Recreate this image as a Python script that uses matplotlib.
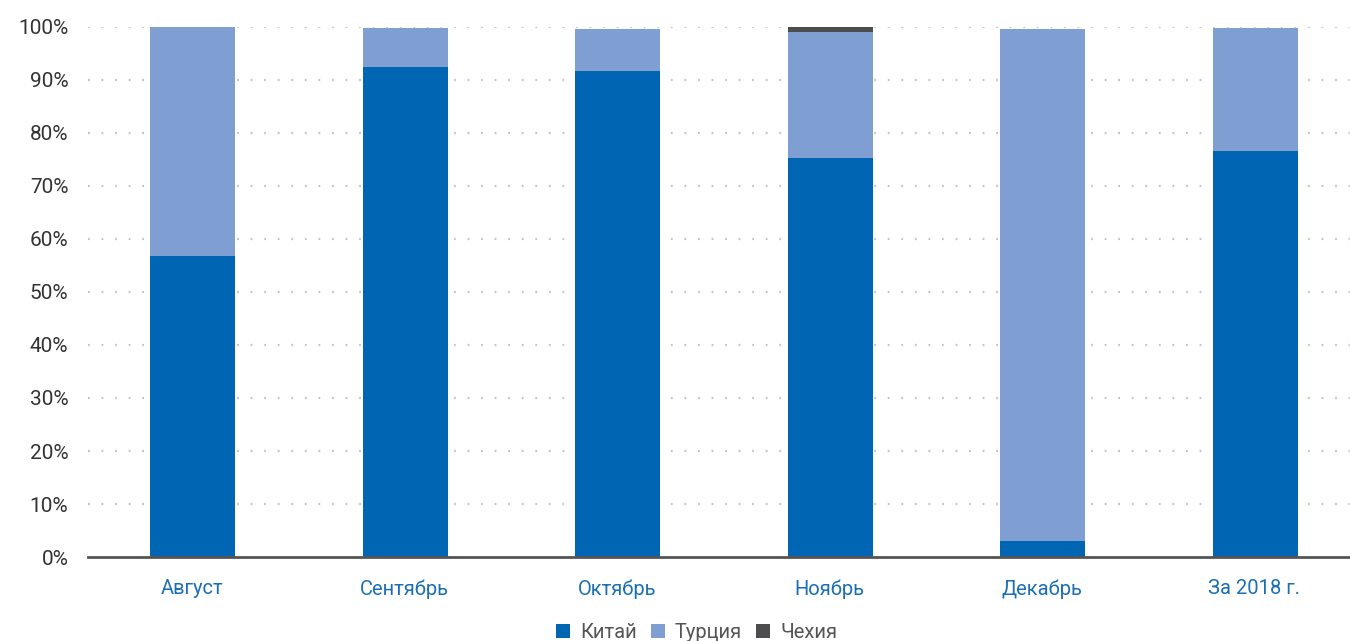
import matplotlib.pyplot as plt
import numpy as np

months = ['Август', 'Сентябрь', 'Октябрь', 'Ноябрь', 'Декабрь', 'За 2018 г.']
china = [56.8, 92.5, 91.7, 75.3, 3.0, 76.6]
turkey = [43.2, 7.3, 7.9, 23.8, 96.6, 23.2]
czech = [0.0, 0.0, 0.0, 0.8, 0.0, 0.0]

c_china = '#0066b3'
c_turkey = '#7f9fd3'
c_czech = '#4d4d4f'

plt.rcParams['font.family'] = ['Roboto', 'DejaVu Sans']

fig = plt.figure(figsize=(13.5, 6.41), dpi=100)
ax = fig.add_axes([0.065, 0.131, 0.935, 0.827])

x = np.arange(len(months))
w = 0.4
china = np.array(china)
turkey = np.array(turkey)
czech = np.array(czech)
ax.bar(x + 0.005, china, w, color=c_china, label='Китай', zorder=3)
ax.bar(x + 0.005, turkey, w, bottom=china, color=c_turkey, label='Турция', zorder=3)
ax.bar(x + 0.005, czech, w, bottom=china + turkey, color=c_czech, label='Чехия', zorder=3)

ax.set_xlim(-0.49, 5.45)
ax.set_ylim(0, 100)
ax.set_yticks(np.arange(0, 101, 10))
ax.set_yticklabels([f'{v}%' for v in range(0, 101, 10)], fontsize=15, color='#333333')
ax.set_xticks(x)
ax.set_xticklabels(months, fontsize=14.5, color='#1a6fb5')
ax.tick_params(axis='both', length=0)
ax.tick_params(axis='x', pad=16)
ax.tick_params(axis='y', pad=14)

for v in range(10, 101, 10):
    ax.axhline(v, color='#c4c4c4', linewidth=1.6, linestyle=(0, (0.8, 5.3)), zorder=1)

for s in ['top', 'right', 'left']:
    ax.spines[s].set_visible(False)
ax.spines['bottom'].set_color('#555555')
ax.spines['bottom'].set_linewidth(2)
ax.spines['bottom'].set_zorder(4)

fig.legend(loc='lower center', bbox_to_anchor=(0.516, -0.03), ncol=3, frameon=False,
           fontsize=14.5, handlelength=0.7, handleheight=0.7, handletextpad=0.5,
           columnspacing=0.7, labelcolor='#555555')

fig.savefig('out.png', dpi=100)
